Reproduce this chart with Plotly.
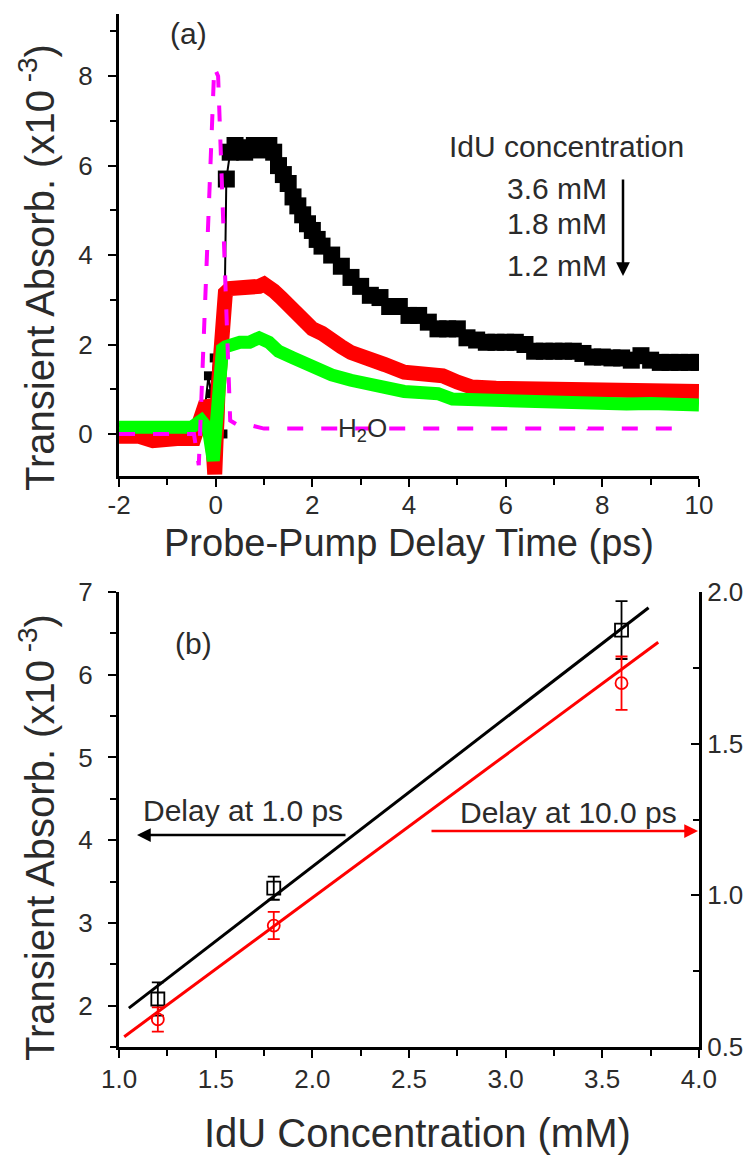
import plotly.graph_objects as go

# ---------------- data: panel (a) ----------------
t_black = [-2.0, -1.6, -1.2, -0.8, -0.4, -0.25, -0.15, -0.1, -0.03, 0.05, 0.15, 0.22, 0.3, 0.4, 0.5,
           0.6, 0.7, 0.8, 0.9, 1.0, 1.1, 1.2, 1.3, 1.4, 1.5, 1.6, 1.7, 1.8, 1.9, 2.0, 2.1, 2.2, 2.4,
           2.6, 2.8, 3.0, 3.2, 3.4, 3.6, 3.8, 4.0, 4.2, 4.4, 4.6, 4.8, 5.0, 5.2, 5.4, 5.6, 5.8, 6.0,
           6.2, 6.4, 6.6, 6.8, 7.0, 7.2, 7.4, 7.6, 7.8, 8.0, 8.2, 8.4, 8.6, 8.8, 9.0, 9.2, 9.4, 9.6,
           9.8, 10.0]
a_black = [0.2, 0.2, 0.2, 0.2, 0.2, 0.3, 1.3, 0.9, 1.7, 0.4, 0.0, 5.7, 6.3, 6.45, 6.35,
           6.3, 6.4, 6.45, 6.35, 6.4, 6.45, 6.3, 6.0, 5.8, 5.6, 5.3, 5.1, 4.9, 4.7, 4.55, 4.35, 4.2, 4.0,
           3.75, 3.5, 3.3, 3.1, 3.05, 2.85, 2.85, 2.65, 2.65, 2.5, 2.35, 2.35, 2.35, 2.15, 2.1, 2.05, 2.05, 2.05,
           2.05, 2.0, 1.85, 1.85, 1.85, 1.85, 1.85, 1.8, 1.72, 1.72, 1.7, 1.7, 1.65, 1.75, 1.65, 1.6, 1.6, 1.6,
           1.6, 1.6]

t_red = [-2.0, -1.6, -1.3, -1.1, -0.8, -0.45, -0.3, -0.2, -0.1, -0.02, 0.05, 0.12, 0.2, 0.3, 0.5,
         0.7, 0.9, 1.0, 1.1, 1.2, 1.35, 1.5, 1.65, 1.8, 2.0, 2.2, 2.4, 2.6, 2.8, 3.0, 3.2, 3.5, 3.9,
         4.3, 4.7, 5.0, 5.3, 5.8, 6.5, 7.0, 7.5, 8.0, 8.5, 9.0, 9.5, 10.0]
a_red = [-0.05, -0.05, -0.15, -0.1, -0.1, -0.1, 0.35, 0.7, 0.55, -0.9, 1.0, 2.5, 3.15, 3.25, 3.25,
         3.3, 3.3, 3.35, 3.3, 3.2, 3.05, 2.9, 2.7, 2.5, 2.35, 2.25, 2.05, 1.95, 1.82, 1.72, 1.65, 1.55, 1.38,
         1.33, 1.3, 1.16, 1.05, 1.02, 1.02, 1.0, 1.02, 0.98, 1.02, 1.0, 0.98, 0.95]

t_green = [-2.0, -1.5, -1.0, -0.5, -0.3, -0.15, -0.05, 0.02, 0.08, 0.14, 0.2, 0.3, 0.5, 0.7, 0.9,
           1.1, 1.3, 1.6, 2.0, 2.4, 2.8, 3.2, 3.6, 3.9, 4.3, 4.6, 4.9, 5.5, 6.3, 7.0, 7.5, 8.0, 8.5,
           9.0, 9.5, 10.0]
a_green = [0.15, 0.15, 0.12, 0.15, 0.3, 0.1, -0.6, 0.5, 1.5, 1.9, 1.95, 2.0, 2.05, 2.05, 2.15,
           2.05, 1.85, 1.7, 1.5, 1.32, 1.2, 1.1, 1.05, 0.95, 0.92, 0.9, 0.78, 0.76, 0.68, 0.68, 0.67, 0.66, 0.67,
           0.68, 0.66, 0.65]

t_h2o = [-2.0, -0.45, -0.35, -0.03, 0.05, 0.3, 0.45, 0.7, 1.0, 7.5, 7.6, 7.7, 9.6]
a_h2o = [0.0, 0.0, -0.7, 8.2, 8.0, 0.3, 0.2, 0.2, 0.12, 0.12, 0.25, 0.12, 0.12]

conc_labels = ["3.6 mM", "1.8 mM", "1.2 mM"]
time_ticks = [-2, 0, 2, 4, 6, 8, 10]
time_ticktext = ["-2", "0", "2", "4", "6", "8", "10"]

# ---------------- data: panel (b) ----------------
conc = [1.2, 1.8, 3.6]
abs_1ps = [2.08, 3.42, 6.54]
err_1ps = [0.2, 0.14, 0.35]
abs_10ps = [0.59, 0.9, 1.70]
err_10ps = [0.04, 0.045, 0.088]
fit_x_1ps = [1.05, 3.74]
fit_y_1ps = [1.97, 6.81]
fit_x_10ps = [1.026, 3.79]
fit_y_10ps = [0.533, 1.835]

W, H = 753, 1157
FONT = "Arial, Liberation Sans, Helvetica, sans-serif"
TXT = "#2b2b2b"


def px(x):
    return x / W


def py(y):
    return 1 - y / H


fig = go.Figure()

# panel (a)
fig.add_trace(go.Scatter(
    x=t_black, y=a_black, mode="lines+markers", xaxis="x", yaxis="y",
    line=dict(color="black", width=2),
    marker=dict(symbol="square", color="black", opacity=1, line=dict(width=0),
                size=[17 if t >= 0.2 else (9 if t > -0.2 else 4) for t in t_black]),
))
fig.add_trace(go.Scatter(
    x=t_red, y=a_red, mode="lines", xaxis="x", yaxis="y",
    line=dict(color="#ff0000", width=15),
))
fig.add_trace(go.Scatter(
    x=t_green, y=a_green, mode="lines", xaxis="x", yaxis="y",
    line=dict(color="#00ff00", width=13),
))
fig.add_trace(go.Scatter(
    x=t_h2o, y=a_h2o, mode="lines", xaxis="x", yaxis="y",
    line=dict(color="#ff00ff", width=4, dash="16px,18px"),
))

# panel (b)
fig.add_trace(go.Scatter(
    x=fit_x_1ps, y=fit_y_1ps, mode="lines", xaxis="x2", yaxis="y2",
    line=dict(color="black", width=3),
))
fig.add_trace(go.Scatter(
    x=fit_x_10ps, y=fit_y_10ps, mode="lines", xaxis="x2", yaxis="y3",
    line=dict(color="#ff0000", width=3),
))
fig.add_trace(go.Scatter(
    x=conc, y=abs_1ps, mode="markers", xaxis="x2", yaxis="y2",
    marker=dict(symbol="square-open", size=13, color="black", line=dict(width=1.8, color="black")),
    error_y=dict(type="data", array=err_1ps, color="black", thickness=1.8, width=6),
))
fig.add_trace(go.Scatter(
    x=conc, y=abs_10ps, mode="markers", xaxis="x2", yaxis="y3",
    marker=dict(symbol="circle-open", size=12, color="#ff0000", line=dict(width=1.8, color="#ff0000")),
    error_y=dict(type="data", array=err_10ps, color="#ff0000", thickness=1.8, width=6),
))

xdom = [px(119), px(699)]
tickfont = dict(family=FONT, size=26, color=TXT)
common = dict(showgrid=False, zeroline=False, showline=True, linecolor="black", linewidth=3,
              tickcolor="black", tickwidth=2, ticklen=8, tickfont=tickfont, automargin=False)
minor_out = lambda d: dict(dtick=d, ticks="outside", ticklen=6, tickwidth=2, tickcolor="black", showgrid=False)
minor_in = lambda d: dict(dtick=d, ticks="inside", ticklen=6, tickwidth=2, tickcolor="black", showgrid=False)

fig.update_layout(
    template="none",
    width=W, height=H, margin=dict(l=0, r=0, t=0, b=0, autoexpand=False),
    paper_bgcolor="white", plot_bgcolor="white", showlegend=False,
    xaxis=dict(domain=xdom, range=[-2.001, 10.001], anchor="y", ticks="outside",
               tickmode="array", tickvals=time_ticks, ticktext=time_ticktext,
               minor=dict(tickmode="linear", tick0=-1, dtick=1, ticks="outside", ticklen=6,
                          tickwidth=2, tickcolor="black", showgrid=False),
               ticklabelstandoff=-4, **common),
    yaxis=dict(domain=[py(476), py(14)], range=[-0.94, 9.39], anchor="x", ticks="outside", dtick=2,
               tick0=0, minor=minor_out(1), ticklabelstandoff=10, **common),
    xaxis2=dict(domain=xdom, range=[0.999, 4.001], anchor="y2", ticks="outside", dtick=0.5,
                tick0=1, tickformat=".1f", minor=minor_out(0.25), ticklabelstandoff=-1, **common),
    yaxis2=dict(domain=[py(1047), py(592)], range=[1.5, 7.0], anchor="x2", ticks="outside", dtick=1,
                tick0=0, minor=minor_out(0.5), ticklabelstandoff=10, **common),
    yaxis3=dict(range=[0.499, 2.001], overlaying="y2", anchor="x2", side="right", ticks="inside",
                dtick=0.5, tick0=0, tickformat=".1f", minor=minor_in(0.25),
                ticklabelstandoff=0, **common),
    xaxis3=dict(range=[0.999, 4.001], overlaying="x2", anchor="y2", side="top", ticks="inside",
                dtick=1, tick0=0, showticklabels=False, **common),
)

ann = []


def text(x, y, s, size, xanchor="center", color=TXT, angle=0):
    ann.append(dict(x=px(x), y=py(y), xref="paper", yref="paper", text=s, showarrow=False,
                    xanchor=xanchor, yanchor="middle", textangle=angle,
                    font=dict(family=FONT, size=size, color=color)))


def arrow(x_head, y_head, x_tail, y_tail, color):
    ann.append(dict(x=px(x_head), y=py(y_head), xref="paper", yref="paper", text="",
                    showarrow=True, ax=x_tail - x_head, ay=y_tail - y_head,
                    arrowhead=2, arrowsize=1.1, arrowwidth=2.5, arrowcolor=color))


# axis titles
text(37, 268, "Transient Absorb. (x10<sup> -3</sup>)", 40, angle=-90)
text(37, 838, "Transient Absorb. (x10<sup> -3</sup>)", 40, angle=-90)
text(409, 543, "Probe-Pump Delay Time (ps)", 38)
text(418, 1133, "IdU Concentration (mM)", 40)

# panel labels
text(188, 33, "(a)", 30)
text(193, 643, "(b)", 30)

# panel (a) annotations
text(447, 146, "IdU concentration", 30, xanchor="left")
for lab, yy in zip(conc_labels, [188, 223, 265]):
    text(609, yy, lab, 30, xanchor="right")
arrow(623, 276, 623, 178, "black")
text(362, 429, "H<sub>2</sub>O", 26)

# panel (b) annotations
text(141, 810, "Delay at 1.0 ps", 30, xanchor="left")
arrow(137, 835, 347, 835, "black")
text(458, 812, "Delay at 10.0 ps", 30, xanchor="left")
arrow(698, 831, 430, 831, "#ff0000")

fig.update_layout(annotations=ann)
fig.write_html("out.html")
